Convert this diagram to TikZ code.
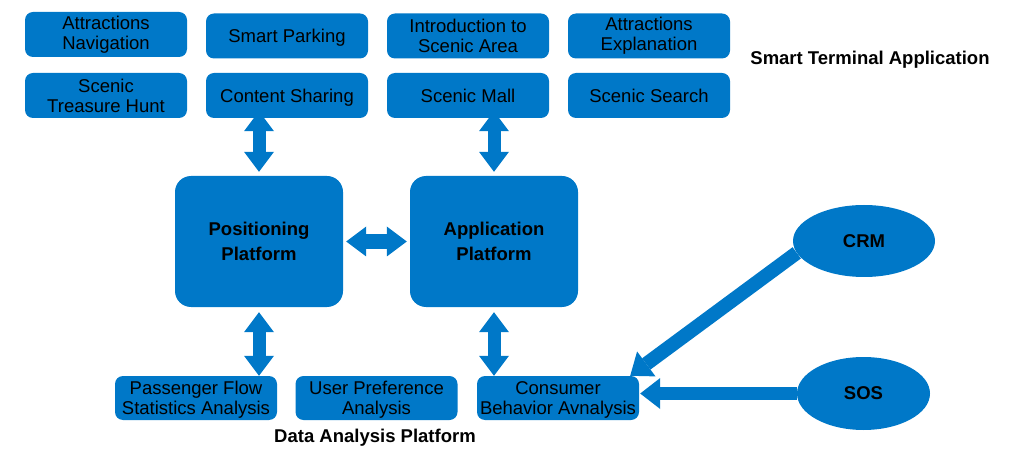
\documentclass[tikz,border=0pt]{standalone}
\usepackage{fontspec}
\setmainfont{Liberation Sans}
\usetikzlibrary{arrows.meta,shapes.geometric,backgrounds}
\definecolor{tile}{HTML}{0078C8}

\tikzset{
  func/.style={fill=tile, rounded corners=8pt, minimum width=162pt, minimum height=45pt,
    inner sep=0pt, align=center, font=\fontsize{18.5}{20}\selectfont},
  flat/.style={text depth=0pt},
  plat/.style={fill=tile, rounded corners=16pt, minimum width=168pt, minimum height=131pt,
    inner sep=0pt, align=center, font=\bfseries\fontsize{18.5}{25}\selectfont},
  src/.style={ellipse, fill=tile, inner sep=0pt, font=\bfseries\fontsize{18.5}{22}\selectfont},
  caption/.style={font=\bfseries\fontsize{18.5}{22}\selectfont},
  link/.style={draw=tile, line width=13pt,
    {Triangle[width=30pt,length=20pt,line width=0pt]}-{Triangle[width=30pt,length=20pt,line width=0pt]}},
  feed/.style={draw=tile, line width=14pt, -{Triangle[width=31pt,length=20pt,line width=0pt]}}
}

\begin{document}
\begin{tikzpicture}[x=1pt,y=-1pt]
      \useasboundingbox (0,0) rectangle (1009,454);

      \path
      (106,34.5) node[func] (nav) {Attractions\\Navigation}
      (287,36) node[func, flat] (park) {Smart Parking}
      (468,36) node[func] (intro) {Introduction to\\Scenic Area}
      (649,36) node[func] (expl) {Attractions\\Explanation}
      (106,95.5) node[func] (hunt) {Scenic\\Treasure Hunt}
      (287,95.5) node[func, flat] (share) {Content Sharing}
      (468,95.5) node[func, flat] (mall) {Scenic Mall}
      (649,95.5) node[func, flat] (search) {Scenic Search}
      ;
      \node[caption] (term) at (870,60) {Smart Terminal Application};

      \path
      (259,241.5) node[plat] (pos) {Positioning\\Platform}
      (494,241.5) node[plat] (app) {Application\\Platform}
      ;

      \path
      (196,398) node[func, flat, minimum height=44pt] (flow) {Passenger Flow\\Statistics Analysis}
      (376.5,398) node[func, flat, minimum height=44pt] (pref) {User Preference\\Analysis}
      (558,398) node[func, flat, minimum height=44pt] (cons) {Consumer\\Behavior Avnalysis}
      ;
      \node[caption] (data) at (375,438) {Data Analysis Platform};

      \path
      (864,241) node[src, minimum width=142pt, minimum height=72pt] (crm) {CRM}
      (863.5,393.5) node[src, minimum width=133pt, minimum height=73pt] (sos) {SOS}
      ;

      \begin{pgfonlayer}{background}
      \draw[link, shorten <=4pt, shorten >=-7pt] (pos.north) -- (pos.north |- share.south);
      \draw[link, shorten <=4pt, shorten >=-7pt] (app.north) -- (app.north |- mall.south);
      \end{pgfonlayer}

      \draw[link, line width=15pt, shorten <=3pt, shorten >=3pt] (pos.east) -- (app.west);
      \draw[link, shorten <=5pt] (pos.south) -- (pos.south |- flow.north);
      \draw[link, shorten <=5pt] (app.south) -- (app.south |- cons.north);

      \draw[feed] (crm.190) -- ([xshift=-9pt]cons.north east);
      \draw[feed, line width=13pt, shorten >=1pt] (sos.west) -- (sos.west -| cons.east);
\end{tikzpicture}
\end{document}
